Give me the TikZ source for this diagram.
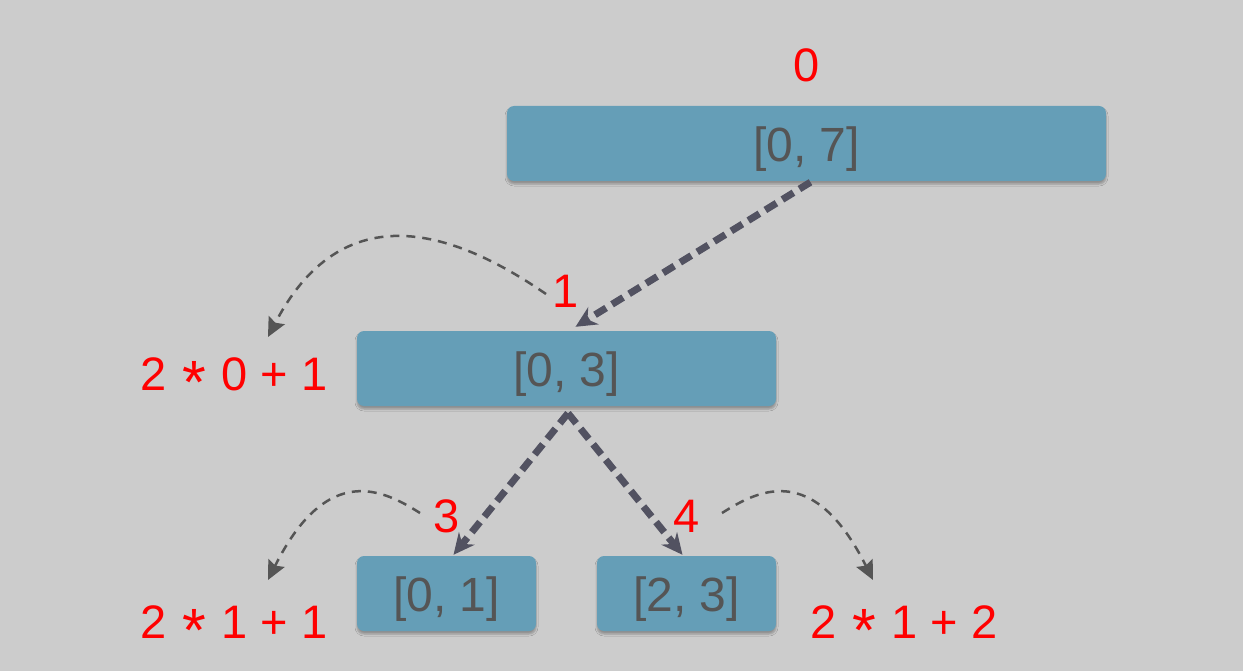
\documentclass[tikz,border=0pt]{standalone}
\usepackage{fontspec}
\setmainfont{Liberation Sans}
\usetikzlibrary{arrows.meta,shadows.blur}
\definecolor{bg}{HTML}{CCCCCC}
\definecolor{boxfill}{HTML}{659EB7}
\definecolor{boxtext}{HTML}{555555}
\definecolor{splitcol}{HTML}{525261}
\definecolor{jumpcol}{HTML}{555555}
\definecolor{labred}{HTML}{FF0000}
\newcommand{\timesstar}{\hspace{0.05em}\raisebox{-0.28em}{\scalebox{1.3}{*}}\hspace{0.05em}}

\begin{document}
\begin{tikzpicture}[x=1pt,y=1pt,
  seg/.style={fill=boxfill, rounded corners=7pt, inner sep=0pt, text=boxtext,
    minimum height=75pt, font=\fontsize{48}{56}\selectfont,
    text height=46pt, text depth=10pt,
    blur shadow={shadow xshift=0pt, shadow yshift=-3pt,
      shadow blur radius=2pt, shadow opacity=30}},
  lbl/.style={text=labred, font=\fontsize{47}{56}\selectfont, inner sep=0pt, anchor=base},
  split/.style={draw=splitcol, line width=7pt, dash pattern=on 13pt off 7pt,
    -{Stealth[length=21pt,width=20pt,inset=7pt]}},
  jump/.style={draw=jumpcol, line width=2.5pt, dash pattern=on 9pt off 7pt,
    -{Stealth[length=19pt,width=18pt,inset=3pt]}}]

  % canvas
  \fill[bg] (0,0) rectangle (1243,-671);
  \useasboundingbox (0,0) rectangle (1243,-671);

  % segment boxes
  \node[seg, minimum width=599pt] (r07) at (806.5,-143.5) {{[0, 7]}};
  \node[seg, minimum width=419pt] (r03) at (566.5,-368.5) {{[0, 3]}};
  \node[seg, minimum width=179pt] (r01) at (446.5,-593.5) {{[0, 1]}};
  \node[seg, minimum width=179pt] (r23) at (686.5,-593.5) {{[2, 3]}};

  % node indices
  \node[lbl] (n0) at (807,-82) {0};
  \node[lbl] (n1) at (566,-308) {1};
  \node[lbl] (n3) at (447,-532) {3};
  \node[lbl] (n4) at (687,-532) {4};

  % child index formulas
  \node[lbl] (e1) at (234,-390) {2 \timesstar{} 0 + 1};
  \node[lbl] (e3) at (234,-638) {2 \timesstar{} 1 + 1};
  \node[lbl] (e4) at (904,-638) {2 \timesstar{} 1 + 2};

  % splitting into children
  \draw[split] ([xshift=4pt,yshift=-1pt]r07.south) -- ([xshift=9pt,yshift=4pt]r03.north);
  \draw[split] ([xshift=1.5pt,yshift=-7pt]r03.south) -- ([xshift=7pt,yshift=1pt]r01.north);
  \draw[split] ([xshift=1.5pt,yshift=-7pt]r03.south) -- ([xshift=-4pt,yshift=1pt]r23.north);

  % index arithmetic hints
  \coordinate (c1s) at (546,-294);
  \coordinate (c1e) at (268,-337);
  \coordinate (c2s) at (420,-513);
  \coordinate (c2e) at (268,-580);
  \coordinate (c3s) at (722,-513);
  \coordinate (c3e) at (873,-580);
  \draw[jump] (c1s) .. controls +(-80,55) and +(79,152) .. (c1e);
  \draw[jump] (c2s) .. controls +(-35,22) and +(60,120) .. (c2e);
  \draw[jump] (c3s) .. controls +(35,22) and +(-60,120) .. (c3e);
\end{tikzpicture}
\end{document}
